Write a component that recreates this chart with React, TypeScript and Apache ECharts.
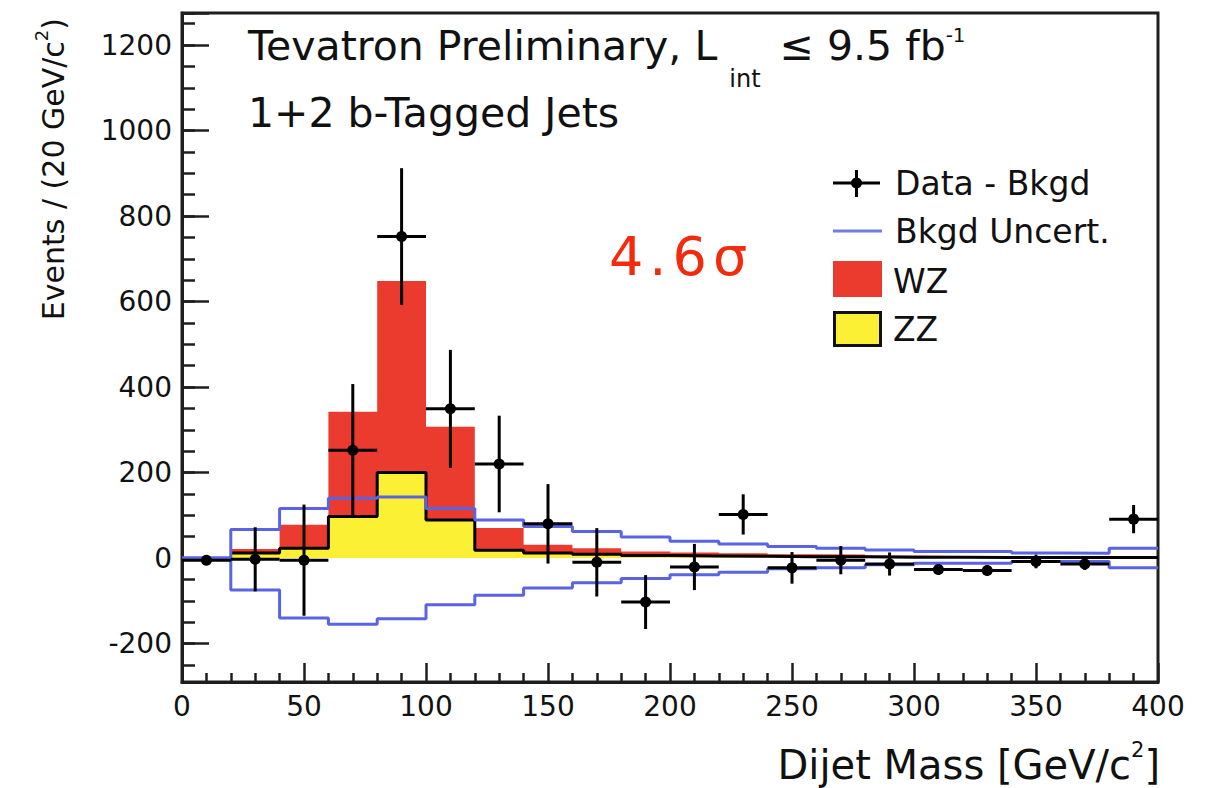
import React, { useEffect, useRef } from 'react';
import * as echarts from 'echarts';

// ---- data ----
const binEdges = [0, 20, 40, 60, 80, 100, 120, 140, 160, 180, 200, 220, 240, 260, 280, 300, 320, 340, 360, 380, 400];
const massCenters = [10, 30, 50, 70, 90, 110, 130, 150, 170, 190, 210, 230, 250, 270, 290, 310, 330, 350, 370, 390];
const dataMinusBkgd = [-5, -3, -5, 252, 752, 349, 220, 80, -10, -103, -21, 102, -23, -5, -14, -27, -29, -8, -14, 91];
const dataError = [8, 75, 130, 155, 160, 138, 113, 93, 80, 63, 54, 47, 37, 33, 27, 12, 12, 16, 14, 33];
// signal histograms start at 20 GeV
const zzSignal = [12, 23, 97, 200, 89, 18, 12, 9, 6, 5, 4, 3, 3, 2, 2, 1, 1, 1, 1];
const wzSignal = [9, 55, 245, 448, 218, 52, 19, 14, 9, 8, 7, 6, 5, 4, 3, 3, 2, 2, 2];
const bkgdUncUp = [0, 67, 116, 140, 143, 116, 89, 74, 62, 49, 39, 33, 27, 23, 19, 15, 15, 12, 11, 23];
const bkgdUncDown = [0, -75, -140, -155, -142, -109, -87, -70, -58, -48, -39, -33, -25, -23, -16, -12, -12, -8, -8, -23];
const legendLabels = ['Data - Bkgd', 'Bkgd Uncert.', 'WZ', 'ZZ'];

const FONT = 'DejaVu Sans';
const RED = '#ea3b2e';
const YELLOW = '#fbf034';
const BLUE = '#5a64e2';
const AXIS = '#1e1e1e';

function steps(edges: number[], values: number[]) {
  const pts: number[][] = values.map((v, i) => [edges[i], v]);
  pts.push([edges[values.length], values[values.length - 1]]);
  return pts;
}

export default function App() {
  const ref = useRef<HTMLDivElement>(null);
  useEffect(() => {
    if (!ref.current) return;
    const chart = echarts.init(ref.current, undefined, { renderer: 'svg' });
    const halfBin = (binEdges[1] - binEdges[0]) / 2;
    const sigEdges = binEdges.slice(1);
    const signalTotal = zzSignal.map((z, i) => z + wzSignal[i]);

    const option: any = {
      animation: false,
      backgroundColor: '#ffffff',
      grid: {
        left: 182, right: 62, top: 13, bottom: 106,
        show: true, borderColor: AXIS, borderWidth: 3, backgroundColor: 'transparent',
        containLabel: false, outerBoundsMode: 'none',
      },
      xAxis: {
        type: 'value', min: 0, max: 400, interval: 50,
        axisLine: { show: true, onZero: false, lineStyle: { color: AXIS, width: 3 } },
        axisTick: { show: true, inside: true, length: 19, lineStyle: { color: AXIS, width: 2.5 } },
        minorTick: { show: true, splitNumber: 5, length: 9, lineStyle: { color: AXIS, width: 2.5 } },
        axisLabel: { fontFamily: FONT, fontSize: 28, color: '#111', margin: 10 },
        splitLine: { show: false },
      },
      yAxis: [
        {
          type: 'value', min: -290, max: 1275, position: 'left', splitNumber: 8,
          minInterval: 200, maxInterval: 200,
          axisLine: { show: true, onZero: false, lineStyle: { color: AXIS, width: 3 } },
          axisTick: { show: true, inside: true, length: 27, lineStyle: { color: AXIS, width: 2.5 } },
          axisLabel: {
            fontFamily: FONT, fontSize: 28, color: '#111', margin: 10,
            formatter: (v: number) => (Math.abs(v % 200) < 1e-6 ? String(v) : ''),
          },
          splitLine: { show: false },
        },
        {
          type: 'value', min: -290, max: 1275, position: 'left', splitNumber: 31,
          minInterval: 50, maxInterval: 50,
          axisLine: { show: false },
          axisTick: { show: true, inside: true, length: 13, lineStyle: { color: AXIS, width: 2.5 } },
          axisLabel: { show: false },
          splitLine: { show: false },
        },
      ],
      series: [
        {
          name: 'WZ', type: 'line', step: 'end', showSymbol: false, z: 3,
          data: steps(sigEdges, signalTotal),
          lineStyle: { width: 0, color: RED },
          areaStyle: { color: RED, opacity: 1 },
        },
        {
          name: 'ZZ', type: 'line', step: 'end', showSymbol: false, z: 4,
          data: steps(sigEdges, zzSignal),
          lineStyle: { color: '#000', width: 3 },
          areaStyle: { color: YELLOW, opacity: 1 },
        },
        {
          name: 'Bkgd Uncert.', type: 'line', step: 'end', showSymbol: false, z: 5,
          data: steps(binEdges, bkgdUncUp),
          lineStyle: { color: BLUE, width: 3 },
        },
        {
          name: 'Bkgd Uncert.', type: 'line', step: 'end', showSymbol: false, z: 5,
          data: steps(binEdges, bkgdUncDown),
          lineStyle: { color: BLUE, width: 3 },
        },
        {
          name: 'Data - Bkgd', type: 'custom', z: 10,
          data: massCenters.map((m, i) => [m, dataMinusBkgd[i], dataError[i]]),
          encode: { x: 0, y: 1 },
          renderItem: (params: any, api: any) => {
            const x = api.value(0), y = api.value(1), e = api.value(2);
            const l = api.coord([x - halfBin, y]);
            const r = api.coord([x + halfBin, y]);
            const t = api.coord([x, y + e]);
            const b = api.coord([x, y - e]);
            const c = api.coord([x, y]);
            const st = { stroke: '#000', lineWidth: 3 };
            return {
              type: 'group',
              children: [
                { type: 'line', shape: { x1: l[0], y1: l[1], x2: r[0], y2: r[1] }, style: st },
                { type: 'line', shape: { x1: t[0], y1: t[1], x2: b[0], y2: b[1] }, style: st },
                { type: 'circle', shape: { cx: c[0], cy: c[1], r: 5.5 }, style: { fill: '#000' } },
              ],
            };
          },
        },
      ],
      graphic: [
        {
          type: 'text', left: 248, top: 25, z: 20,
          style: {
            text: '{a|Tevatron Preliminary, L}{sub|int}{a| ≤ 9.5 fb}{sup|-1}',
            fill: '#111',
            rich: {
              a: { fontFamily: FONT, fontSize: 41, lineHeight: 44, verticalAlign: 'top', fill: '#111' },
              sub: { fontFamily: FONT, fontSize: 24, lineHeight: 66, verticalAlign: 'bottom', fill: '#111', padding: [0, 6, 0, 12] },
              sup: { fontFamily: FONT, fontSize: 20, lineHeight: 22, verticalAlign: 'top', fill: '#111' },
            },
          },
        },
        {
          type: 'text', x: 248, y: 113, z: 20,
          style: { text: '1+2 b-Tagged Jets', fontFamily: FONT, fontSize: 41, fill: '#111', verticalAlign: 'middle', align: 'left' },
        },
        {
          type: 'text', x: 50, y: 18, rotation: Math.PI / 2, z: 20,
          style: {
            text: '{n|Events / (20 GeV/c}{s|2}{n|)}',
            align: 'right', verticalAlign: 'middle',
            rich: {
              n: { fontFamily: FONT, fontSize: 30, lineHeight: 36, verticalAlign: 'bottom', fill: '#111' },
              s: { fontFamily: FONT, fontSize: 18, lineHeight: 16, verticalAlign: 'top', fill: '#111' },
            },
          },
        },
        {
          type: 'text', x: 1160, y: 762, z: 20,
          style: {
            text: '{n|Dijet Mass [GeV/c}{s|2}{n|]}',
            align: 'right', verticalAlign: 'middle',
            rich: {
              n: { fontFamily: FONT, fontSize: 40, lineHeight: 46, verticalAlign: 'bottom', fill: '#111' },
              s: { fontFamily: FONT, fontSize: 21, lineHeight: 22, verticalAlign: 'top', fill: '#111' },
            },
          },
        },
        {
          type: 'text', x: 606, y: 256, z: 20,
          style: {
            text: '{d|4}{d|.}{d|6}{d|σ}',
            verticalAlign: 'middle', align: 'left',
            rich: {
              d: { fontFamily: FONT, fontSize: 54, fill: '#f22b0e', padding: [0, 3, 0, 3] },
            },
          },
        },
        // legend
        {
          type: 'group', z: 20,
          children: [
            { type: 'line', shape: { x1: 833, y1: 183, x2: 880, y2: 183 }, style: { stroke: '#000', lineWidth: 3 } },
            { type: 'line', shape: { x1: 856.5, y1: 170, x2: 856.5, y2: 197 }, style: { stroke: '#000', lineWidth: 3 } },
            { type: 'circle', shape: { cx: 856.5, cy: 183, r: 5.5 }, style: { fill: '#000' } },
            { type: 'line', shape: { x1: 833, y1: 231, x2: 882, y2: 231 }, style: { stroke: BLUE, lineWidth: 3, opacity: 0.85 } },
            { type: 'rect', shape: { x: 833, y: 261, width: 49, height: 36 }, style: { fill: RED } },
            { type: 'rect', shape: { x: 834.5, y: 312.5, width: 46, height: 33 }, style: { fill: YELLOW, stroke: '#111', lineWidth: 3 } },
            { type: 'text', x: 895, y: 183, style: { text: legendLabels[0], fontFamily: FONT, fontSize: 33, fill: '#111', verticalAlign: 'middle' } },
            { type: 'text', x: 895, y: 231, style: { text: legendLabels[1], fontFamily: FONT, fontSize: 33, fill: '#111', verticalAlign: 'middle' } },
            { type: 'text', x: 893, y: 281, style: { text: legendLabels[2], fontFamily: FONT, fontSize: 33, fill: '#111', verticalAlign: 'middle' } },
            { type: 'text', x: 893, y: 329, style: { text: legendLabels[3], fontFamily: FONT, fontSize: 33, fill: '#111', verticalAlign: 'middle' } },
          ],
        },
      ],
    };
    chart.setOption(option);
    return () => chart.dispose();
  }, []);
  return <div ref={ref} style={{ position: 'fixed', left: 0, top: 0, width: 1220, height: 788 }} />;
}
